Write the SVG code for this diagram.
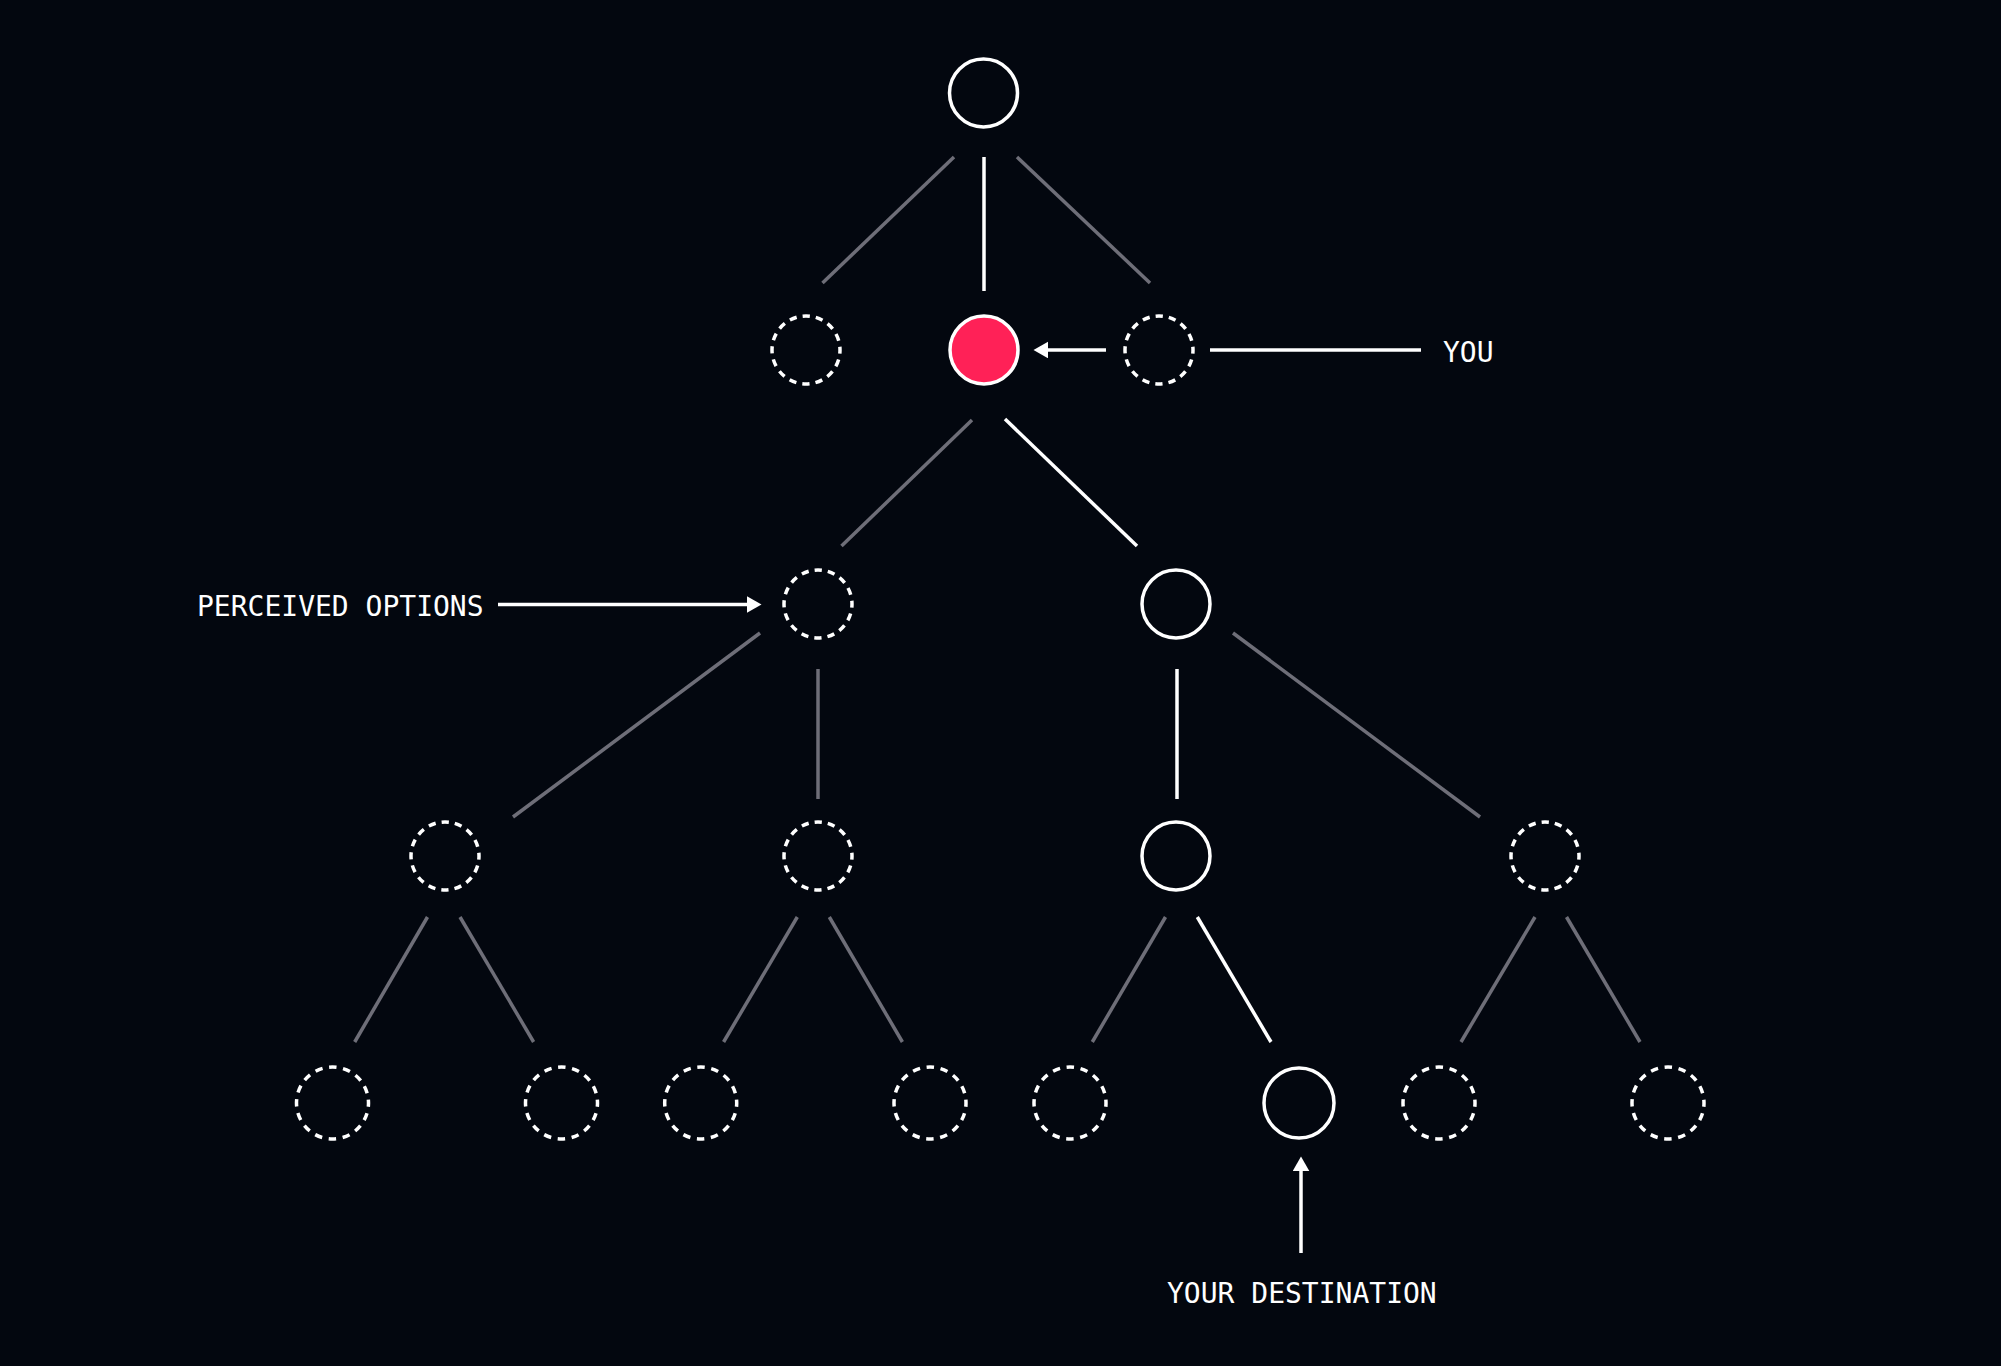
<svg xmlns="http://www.w3.org/2000/svg" width="2001" height="1366" viewBox="0 0 2001 1366">
  <style>
    .bg { fill: #03070F; }
    .edge { fill: none; stroke-width: 3.5; stroke-linecap: butt; }
    .gray { stroke: #6E6E78; }
    .white { stroke: #FFFFFF; }
    .solid { fill: #03070F; stroke: #FFFFFF; stroke-width: 3.5; }
    .you { fill: #FF2157; stroke: #FFFFFF; stroke-width: 3.5; }
    .dash { fill: #03070F; stroke: #FFFFFF; stroke-width: 3.5; stroke-dasharray: 7.3 6.05; stroke-dashoffset: 3.65; }
    .dashL { fill: #03070F; stroke: #FFFFFF; stroke-width: 3.5; stroke-dasharray: 7.5 6.64; stroke-dashoffset: 3.75; }
    .ptr { fill: none; stroke: #FFFFFF; stroke-width: 3.5; }
    .label { fill: #FFFFFF; font-family: "DejaVu Sans Mono", "Liberation Mono", monospace; font-size: 28px; }
  </style>
  <defs>
    <marker id="head" markerUnits="userSpaceOnUse" markerWidth="15" markerHeight="17" refX="0" refY="8.3" orient="auto">
      <path d="M0,0 L14.5,8.3 L0,16.6 Z" fill="#FFFFFF"/>
    </marker>
  </defs>
  <rect class="bg" x="0" y="0" width="2001" height="1366"/>

  <g id="connectors">
    <line class="edge gray" x1="954" y1="157" x2="822.5" y2="283"/>
    <line class="edge white" x1="984" y1="157" x2="984" y2="291"/>
    <line class="edge gray" x1="1017" y1="157" x2="1150" y2="283"/>

    <line class="edge gray" x1="972" y1="420" x2="841.5" y2="546"/>
    <line class="edge white" x1="1005" y1="419" x2="1137" y2="546"/>

    <line class="edge gray" x1="760" y1="633" x2="513" y2="817"/>
    <line class="edge gray" x1="818" y1="669" x2="818" y2="799"/>
    <line class="edge white" x1="1177" y1="669" x2="1177" y2="799"/>
    <line class="edge gray" x1="1233" y1="633" x2="1480" y2="817"/>

    <line class="edge gray" x1="427.5" y1="917" x2="354.7" y2="1042"/>
    <line class="edge gray" x1="460" y1="917" x2="533.6" y2="1042"/>
    <line class="edge gray" x1="797.3" y1="917" x2="723.6" y2="1042"/>
    <line class="edge gray" x1="829.3" y1="917" x2="902.4" y2="1042"/>
    <line class="edge gray" x1="1165.5" y1="917" x2="1092.3" y2="1042"/>
    <line class="edge white" x1="1197.3" y1="917" x2="1271" y2="1042"/>
    <line class="edge gray" x1="1535" y1="917" x2="1461" y2="1042"/>
    <line class="edge gray" x1="1566.5" y1="917" x2="1640" y2="1042"/>

    <line class="ptr" x1="1106" y1="350" x2="1048" y2="350" marker-end="url(#head)"/>
    <line class="ptr" x1="1210" y1="350" x2="1421" y2="350"/>
    <line class="ptr" x1="498" y1="604.5" x2="747" y2="604.5" marker-end="url(#head)"/>
    <line class="ptr" x1="1301" y1="1253" x2="1301" y2="1171" marker-end="url(#head)"/>
  </g>

  <g id="root"><circle class="solid" cx="983.5" cy="93" r="34"/></g>
  <g id="l2-left"><circle class="dash" cx="806" cy="350" r="34"/></g>
  <g id="you-node"><circle class="you" cx="984" cy="350" r="34"/></g>
  <g id="l2-right"><circle class="dash" cx="1159" cy="350" r="34"/></g>

  <g id="perceived-node"><circle class="dash" cx="818" cy="604" r="34"/></g>
  <g id="l3-right"><circle class="solid" cx="1176" cy="604" r="34"/></g>

  <g id="l4-a"><circle class="dash" cx="445" cy="856" r="34"/></g>
  <g id="l4-b"><circle class="dash" cx="818" cy="856" r="34"/></g>
  <g id="l4-c"><circle class="solid" cx="1176" cy="856" r="34"/></g>
  <g id="l4-d"><circle class="dash" cx="1545" cy="856" r="34"/></g>

  <g id="l5-a"><circle class="dashL" cx="332.5" cy="1103" r="36"/></g>
  <g id="l5-b"><circle class="dashL" cx="561.5" cy="1103" r="36"/></g>
  <g id="l5-c"><circle class="dashL" cx="700.7" cy="1103" r="36"/></g>
  <g id="l5-d"><circle class="dashL" cx="930" cy="1103" r="36"/></g>
  <g id="l5-e"><circle class="dashL" cx="1070" cy="1103" r="36"/></g>
  <g id="destination-node"><circle class="solid" cx="1299" cy="1103" r="35"/></g>
  <g id="l5-g"><circle class="dashL" cx="1439" cy="1103" r="36"/></g>
  <g id="l5-h"><circle class="dashL" cx="1668" cy="1103" r="36"/></g>

  <g id="labels">
    <text class="label" x="1443" y="362">YOU</text>
    <text class="label" x="197" y="616">PERCEIVED OPTIONS</text>
    <text class="label" x="1167" y="1303">YOUR DESTINATION</text>
  </g>
</svg>
